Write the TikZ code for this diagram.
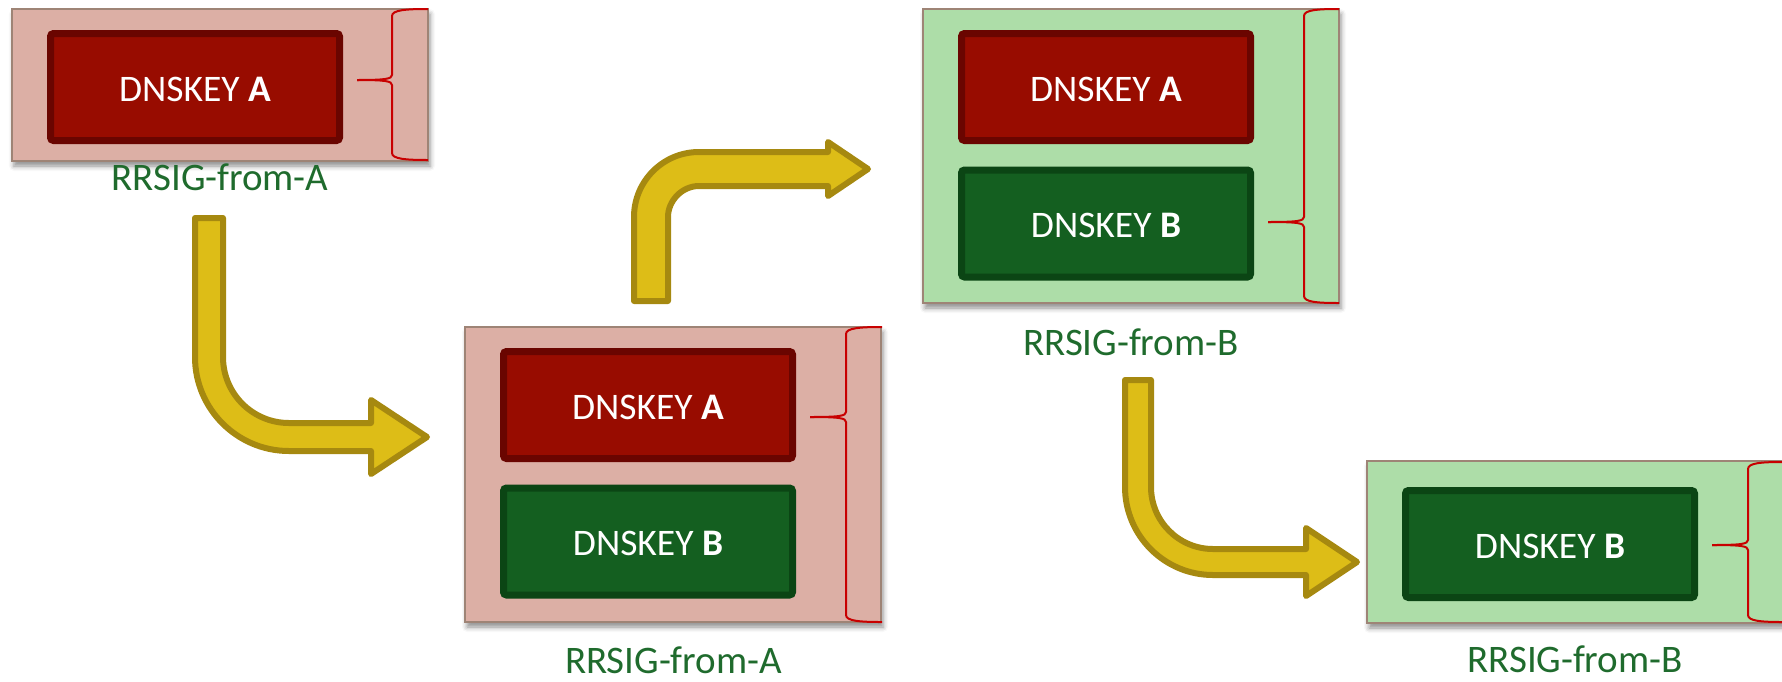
\documentclass[tikz,border=0pt]{standalone}
\usepackage{fontspec}
\setmainfont{Carlito}
\usetikzlibrary{calc,shadows.blur}
\definecolor{pinkbg}{RGB}{220,175,165}
\definecolor{greenbg}{RGB}{173,221,168}
\definecolor{boxedge}{RGB}{158,132,118}
\definecolor{keyred}{RGB}{152,12,0}
\definecolor{keyredd}{RGB}{106,5,0}
\definecolor{keygreen}{RGB}{20,95,32}
\definecolor{keygreend}{RGB}{11,69,20}
\definecolor{bracered}{RGB}{200,0,0}
\definecolor{labelgreen}{RGB}{31,107,45}
\definecolor{arrowfill}{RGB}{221,189,23}
\definecolor{arrowedge}{RGB}{166,137,16}
\tikzset{
  rrset/.style={draw=boxedge, line width=1.5pt, inner sep=0pt, outer sep=0pt,
    anchor=north west, minimum width=416pt,
    blur shadow={shadow xshift=2pt, shadow yshift=-5pt, shadow blur radius=5pt, shadow opacity=45}},
  pinkset/.style={rrset, fill=pinkbg},
  greenset/.style={rrset, fill=greenbg},
  keybox/.style={line width=7pt, rounded corners=3pt, minimum width=289pt, minimum height=107pt,
    inner sep=0pt, outer sep=0pt, anchor=north west, text=white, font=\fontsize{37.5}{44}\selectfont},
  keyA/.style={keybox, fill=keyred, draw=keyredd},
  keyB/.style={keybox, fill=keygreen, draw=keygreend},
  keytext/.style={text=white, font=\fontsize{37.5}{44}\selectfont, inner sep=0pt},
  siglabel/.style={text=labelgreen, font=\fontsize{39}{46}\selectfont, anchor=base, inner sep=0pt},
  rsbrace/.style={draw=bracered, line width=2pt, line join=round},
  bigarrow/.style={fill=arrowfill, draw=arrowedge, line width=6pt, line join=round},
}
% #1 right x, #2 vertical x, #3 top y, #4 tip y, #5 bottom y, #6 tip x
\newcommand\rsbracedraw[6]{%
  \draw[rsbrace] (#1,#3) .. controls ({#1-22},#3) and (#2,{#3+1}) .. (#2,{#3+7})
     -- (#2,{#4-5}) .. controls (#2,{#4-1}) and ({#2-7},#4) .. (#6,#4);
  \draw[rsbrace] (#6,#4) .. controls ({#2-7},#4) and (#2,{#4+1}) .. (#2,{#4+5})
     -- (#2,{#5-7}) .. controls (#2,{#5-1}) and ({#1-22},#5) .. (#1,#5);
}
\begin{document}
\begin{tikzpicture}[x=1pt,y=-1pt]
\useasboundingbox (0,0) rectangle (1782,681);

% ---- outer RRset boxes
\node[pinkset,  minimum height=152pt] (b1) at (12,9) {};
\node[pinkset,  minimum height=295pt] (b2) at (465,327) {};
\node[greenset, minimum height=294pt] (b3) at (923,9) {};
\node[greenset, minimum height=162pt] (b4) at (1367,461) {};

% ---- braces
\rsbracedraw{428}{392}{9}{80}{160}{357}
\rsbracedraw{882}{846}{327}{417}{622}{810}
\rsbracedraw{1339}{1304}{9}{222}{303}{1268}
\rsbracedraw{1783}{1748}{462}{545}{622}{1712}

% ---- key boxes
\node[keyA] (b1a) at ($(b1.north west)+(38.5,24.5)$) {};
\node[keyA] (b2a) at ($(b2.north west)+(38.5,24.5)$) {};
\node[keyB] (b2b) at ($(b2.north west)+(38.5,161)$) {};
\node[keyA] (b3a) at ($(b3.north west)+(38.5,24.5)$) {};
\node[keyB] (b3b) at ($(b3.north west)+(38.5,161)$) {};
\node[keyB] (b4b) at ($(b4.north west)+(38.5,29.5)$) {};
\node[keytext] (t1a) at ($(b1a.center)+(0,2)$) {DNSKEY \textbf{A}};
\node[keytext] (t2a) at ($(b2a.center)+(0,2)$) {DNSKEY \textbf{A}};
\node[keytext] (t2b) at ($(b2b.center)+(0,2)$) {DNSKEY \textbf{B}};
\node[keytext] (t3a) at ($(b3a.center)+(0,2)$) {DNSKEY \textbf{A}};
\node[keytext] (t3b) at ($(b3b.center)+(0,2)$) {DNSKEY \textbf{B}};
\node[keytext] (t4b) at ($(b4b.center)+(0,2)$) {DNSKEY \textbf{B}};

% ---- signature labels
\node[siglabel] (l1) at (220,190) {RRSIG-from-A};
\node[siglabel] (l2) at (673.5,673) {RRSIG-from-A};
\node[siglabel] (l3) at (1131,355) {RRSIG-from-B};
\node[siglabel] (l4) at (1575,672) {RRSIG-from-B};

% ---- bent arrows
\draw[bigarrow] (195,218) -- (195,357) .. controls (195,408.9) and (237.1,451) .. (289,451)
  -- (371,451) -- (371,474) -- (427,437) -- (371,400) -- (371,423) -- (289,423)
  .. controls (252.5,423) and (223,393.5) .. (223,357) -- (223,218) -- cycle;
\draw[bigarrow] (634,301) -- (634,217) .. controls (634,181.1) and (663.1,152) .. (699,152)
  -- (828,152) -- (828,142) -- (868,169) -- (828,196) -- (828,186) -- (699,186)
  .. controls (681.9,186) and (668,200.9) .. (668,217) -- (668,301) -- cycle;
\draw[bigarrow] (1125,380) -- (1125,487) .. controls (1125,535.6) and (1164.4,575) .. (1213,575)
  -- (1306,575) -- (1306,596) -- (1357,562) -- (1306,528) -- (1306,549) -- (1213,549)
  .. controls (1178.8,549) and (1151,521.2) .. (1151,487) -- (1151,380) -- cycle;
\end{tikzpicture}
\end{document}
